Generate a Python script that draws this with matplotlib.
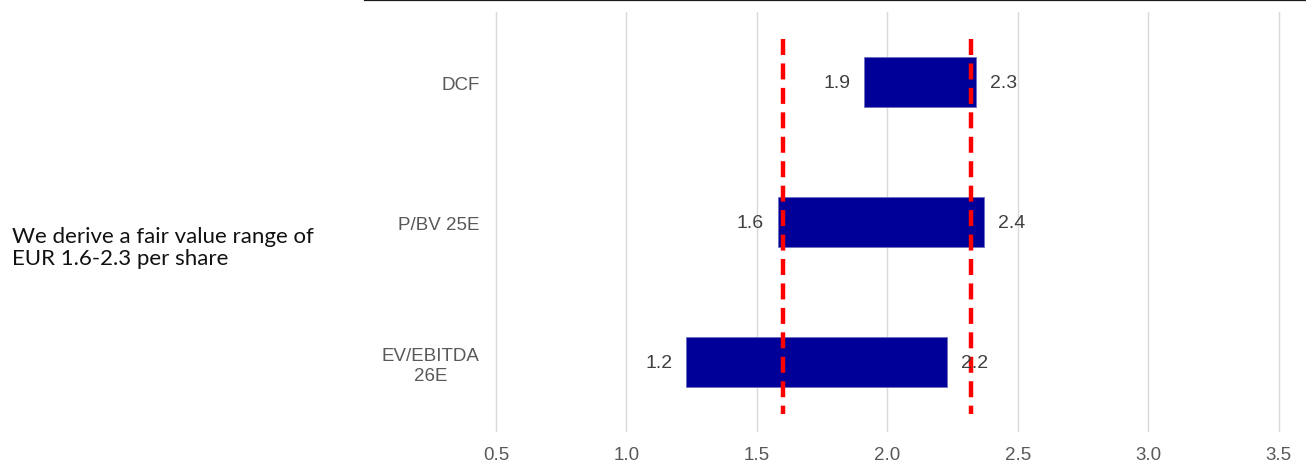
import matplotlib.pyplot as plt
from matplotlib.lines import Line2D

# valuation ranges (EUR per share)
methods = ["DCF", "P/BV 25E", "EV/EBITDA\n26E"]
low = [1.91, 1.58, 1.23]
high = [2.34, 2.37, 2.23]
low_labels = ["1.9", "1.6", "1.2"]
high_labels = ["2.3", "2.4", "2.2"]
fair_low = 1.6
fair_high = 2.32
xticks = [0.5, 1.0, 1.5, 2.0, 2.5, 3.0, 3.5]

fig = plt.figure(figsize=(13.06, 4.77), dpi=100)
ax = fig.add_axes([365.5 / 1306, 1 - 433 / 477, (1305 - 365.5) / 1306, 420 / 477])

y = list(range(len(methods)))
widths = [h - l for l, h in zip(low, high)]
ax.barh(y, widths, left=low, height=0.357, color="#000099",
        edgecolor="#6f6fc0", linewidth=0.6, zorder=2)

for yi, l, h, ll, hl in zip(y, low, high, low_labels, high_labels):
    ax.annotate(ll, (l, yi), xytext=(-10, 0), textcoords="offset points",
                ha="right", va="center", fontsize=14, color="#404040",
                family="Liberation Sans", zorder=4)
    ax.annotate(hl, (h, yi), xytext=(10, 0), textcoords="offset points",
                ha="left", va="center", fontsize=14, color="#404040",
                family="Liberation Sans", zorder=4)

for fv in [fair_low, fair_high]:
    ax.plot([fv, fv], [-0.307, 2.37], color="#ff0000", linewidth=3.2,
            dashes=(3.6, 1.9), zorder=3)

ax.set_xlim(0, 3.6)
ax.set_ylim(2.5, -0.5)
ax.set_xticks(xticks)
ax.set_xticklabels([f"{t:.1f}" for t in xticks], fontsize=13.5,
                   color="#595959", family="Liberation Sans")
ax.set_yticks(y)
ax.set_yticklabels(methods, fontsize=13.5, color="#595959",
                   family="Liberation Sans", multialignment="center")
ax.tick_params(axis="y", length=0, pad=-82)
ax.tick_params(axis="x", length=0, pad=10)
ax.grid(axis="x", color="#d9d9d9", linewidth=1, zorder=0)
ax.set_axisbelow(True)
for s in ax.spines.values():
    s.set_visible(False)

# black rule along the top of the chart
fig.add_artist(Line2D([365 / 1306, 1.0], [1 - 0.8 / 477, 1 - 0.8 / 477],
                      color="#1a1a1a", linewidth=1.6))

fig.text(12 / 1306, 1 - 248 / 477,
         "We derive a fair value range of\nEUR 1.6-2.3 per share",
         ha="left", va="center", fontsize=16, color="#111111",
         family="Lato", linespacing=1.15)

fig.savefig("out.png", dpi=100)
